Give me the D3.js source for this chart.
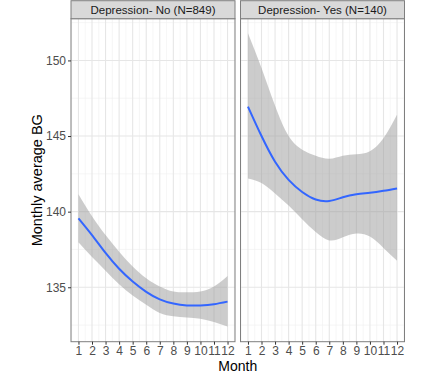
<!DOCTYPE html>
<html><head><meta charset="utf-8">
<script src="https://cdn.jsdelivr.net/npm/d3@7"></script>
<style>body{margin:0;background:#fff}svg{display:block;font-family:"Liberation Sans",Arial,sans-serif}</style>
</head><body>
<svg id="c" width="421" height="382"></svg>
<script>
const months = [1,2,3,4,5,6,7,8,9,10,11,12];
const panelTitles = ["Depression- No (N=849)", "Depression- Yes (N=140)"];
const noFit   = [139.56,138.45,137.27,136.22,135.38,134.7,134.2,133.92,133.8,133.8,133.88,134.05];
const noLower = [137.97,137.0,136.1,135.2,134.45,133.85,133.3,133.08,133.0,132.92,132.7,132.4];
const noUpper = [141.15,139.7,138.45,137.35,136.38,135.6,135.05,134.72,134.67,134.72,135.05,135.75];
const yesFit   = [146.95,145.0,143.3,142.1,141.3,140.8,140.7,140.95,141.15,141.25,141.38,141.54];
const yesLower = [142.2,141.9,141.2,140.4,139.5,138.65,138.1,138.3,138.55,138.35,137.6,136.75];
const yesUpper = [151.8,149.5,147.0,145.0,144.1,143.7,143.5,143.7,143.8,144.0,144.85,146.4];
const yTicks = [135,140,145,150];
const yMinor = [132.5,137.5,142.5,147.5,152.5];
const xMinor = [0.5,1.5,2.5,3.5,4.5,5.5,6.5,7.5,8.5,9.5,10.5,11.5,12.5];
const xLabel = "Month";
const yLabel = "Monthly average BG";

const series = [
  {title: panelTitles[0], fit: noFit, lo: noLower, hi: noUpper},
  {title: panelTitles[1], fit: yesFit, lo: yesLower, hi: yesUpper}
];

const svg = d3.select("#c");
const plotTop = 18.7, plotBottom = 341.7, stripTop = 0.7;
const panelW = 164, panelX0 = [71, 240.5];
const y = d3.scaleLinear().domain([131.4, 152.76]).range([plotBottom, plotTop]);
const borderCol = "#7f7f7f";

series.forEach((s, i) => {
  const x0 = panelX0[i];
  const x = d3.scaleLinear().domain([0.45, 12.55]).range([x0, x0 + panelW]);
  const g = svg.append("g");
  g.selectAll(".ym").data(yMinor).join("line")
    .attr("x1", x0).attr("x2", x0 + panelW)
    .attr("y1", d => y(d)).attr("y2", d => y(d))
    .attr("stroke", "#f0f0f0").attr("stroke-width", 0.6);
  g.selectAll(".xm").data(xMinor).join("line")
    .attr("y1", plotTop).attr("y2", plotBottom)
    .attr("x1", d => x(d)).attr("x2", d => x(d))
    .attr("stroke", "#f0f0f0").attr("stroke-width", 0.6);
  g.selectAll(".yM").data(yTicks).join("line")
    .attr("x1", x0).attr("x2", x0 + panelW)
    .attr("y1", d => y(d)).attr("y2", d => y(d))
    .attr("stroke", "#e6e6e6").attr("stroke-width", 1.1);
  g.selectAll(".xM").data(months).join("line")
    .attr("y1", plotTop).attr("y2", plotBottom)
    .attr("x1", d => x(d)).attr("x2", d => x(d))
    .attr("stroke", "#e6e6e6").attr("stroke-width", 1.1);

  const pts = months.map((m, j) => ({m, f: s.fit[j], lo: s.lo[j], hi: s.hi[j]}));
  const area = d3.area().x(d => x(d.m)).y0(d => y(d.lo)).y1(d => y(d.hi)).curve(d3.curveNatural);
  g.append("path").datum(pts).attr("d", area).attr("fill", "#999999").attr("opacity", 0.5);
  const line = d3.line().x(d => x(d.m)).y(d => y(d.f)).curve(d3.curveNatural);
  g.append("path").datum(pts).attr("d", line).attr("fill", "none").attr("stroke", "#3366FF").attr("stroke-width", 2);

  g.append("rect").attr("x", x0).attr("y", plotTop).attr("width", panelW).attr("height", plotBottom - plotTop)
    .attr("fill", "none").attr("stroke", borderCol).attr("stroke-width", 1);
  g.append("rect").attr("x", x0).attr("y", stripTop).attr("width", panelW).attr("height", plotTop - stripTop)
    .attr("fill", "#d9d9d9").attr("stroke", borderCol).attr("stroke-width", 1);
  g.append("text").attr("x", x0 + panelW / 2).attr("y", plotTop - 5).attr("text-anchor", "middle")
    .attr("font-size", 11.5).attr("fill", "#1a1a1a").text(s.title);

  const xa = g.append("g").attr("transform", `translate(0,${plotBottom})`)
    .call(d3.axisBottom(x).tickValues(months).tickSize(3).tickPadding(2).tickFormat(d3.format("d")));
  xa.select(".domain").remove();
  xa.selectAll("line").attr("stroke", "#333");
  xa.selectAll("text").attr("font-size", 12).attr("fill", "#4d4d4d").attr("font-family", "Liberation Sans, Arial, sans-serif");

  if (i === 0) {
    const ya = g.append("g").attr("transform", `translate(${x0},0)`)
      .call(d3.axisLeft(y).tickValues(yTicks).tickSize(3).tickPadding(2).tickFormat(d3.format("d")));
    ya.select(".domain").remove();
    ya.selectAll("line").attr("stroke", "#333");
    ya.selectAll("text").attr("font-size", 12).attr("fill", "#4d4d4d").attr("font-family", "Liberation Sans, Arial, sans-serif");
  }
});

svg.append("text").attr("x", (panelX0[0] + panelX0[1] + panelW) / 2).attr("y", 371)
  .attr("text-anchor", "middle").attr("font-size", 14).attr("fill", "#000").text(xLabel);
svg.append("text").attr("transform", `translate(42,${(plotTop + plotBottom) / 2}) rotate(-90)`)
  .attr("text-anchor", "middle").attr("font-size", 14.5).attr("fill", "#000").text(yLabel);
</script>
</body></html>
